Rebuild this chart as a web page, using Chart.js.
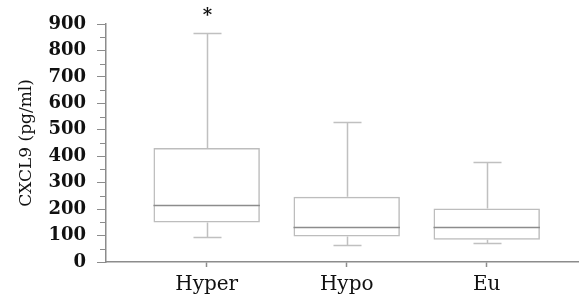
<!DOCTYPE html>
<html>
<head>
<meta charset="utf-8">
<script src="https://cdn.jsdelivr.net/npm/chart.js@4.4.1/dist/chart.umd.min.js"></script>
<style>
  html, body { margin: 0; padding: 0; background: #fff; }
  #wrap { width: 579px; height: 305px; }
</style>
</head>
<body>
<div id="wrap"><canvas id="boxChart"></canvas></div>
<script>
// data (pg/ml)
const categories = ['Hyper', 'Hypo', 'Eu'];
const positions = [1, 2, 3];
const whiskerLow = [96, 64, 71];
const q1 = [149, 96, 84];
const median = [217, 134, 134];
const q3 = [431, 247, 202];
const whiskerHigh = [867, 531, 379];
const marks = ['*', '', ''];
const markValue = 940;
const yTicks = [0, 100, 200, 300, 400, 500, 600, 700, 800, 900];

const boxData = positions.map((p, i) => ({ x: p, y: [q1[i], q3[i]] }));

// whiskers, caps, median and the asterisk
const boxExtras = {
  id: 'boxExtras',
  afterDatasetsDraw(chart) {
    const ctx = chart.ctx;
    const xs = chart.scales.x, ys = chart.scales.y;
    const meta = chart.getDatasetMeta(0);
    ctx.save();
    positions.forEach((p, i) => {
      const cx = Math.round(xs.getPixelForValue(p)) + 0.5;
      const bar = meta.data[i];
      const half = bar.width / 2;
      const capHalf = 14;
      const yHi = Math.round(ys.getPixelForValue(whiskerHigh[i])) + 0.5;
      const yQ3 = ys.getPixelForValue(q3[i]);
      const yQ1 = ys.getPixelForValue(q1[i]);
      const yLo = Math.round(ys.getPixelForValue(whiskerLow[i])) + 0.5;
      const yMed = Math.round(ys.getPixelForValue(median[i])) + 0.5;

      ctx.strokeStyle = '#c0c0c0';
      ctx.lineWidth = 1.5;
      ctx.beginPath();
      ctx.moveTo(cx, yHi); ctx.lineTo(cx, yQ3);
      ctx.moveTo(cx - capHalf, yHi); ctx.lineTo(cx + capHalf, yHi);
      ctx.moveTo(cx, yQ1); ctx.lineTo(cx, yLo);
      ctx.moveTo(cx - capHalf, yLo); ctx.lineTo(cx + capHalf, yLo);
      ctx.stroke();

      ctx.strokeStyle = '#8c8c8c';
      ctx.lineWidth = 1.5;
      ctx.beginPath();
      ctx.moveTo(bar.x - half, yMed); ctx.lineTo(bar.x + half, yMed);
      ctx.stroke();

      if (marks[i]) {
        ctx.fillStyle = '#111';
        ctx.font = 'bold 18px "DejaVu Serif"';
        ctx.textAlign = 'center';
        ctx.textBaseline = 'middle';
        ctx.fillText(marks[i], cx, ys.getPixelForValue(markValue) + 3);
      }
    });

    // minor ticks on the y axis
    ctx.strokeStyle = '#8c8c8c';
    ctx.lineWidth = 1;
    ctx.beginPath();
    for (let k = 0; k < yTicks.length - 1; k++) {
      const v = (yTicks[k] + yTicks[k + 1]) / 2;
      const y = Math.round(ys.getPixelForValue(v)) + 0.5;
      ctx.moveTo(ys.right - 6, y); ctx.lineTo(ys.right, y);
    }
    ctx.stroke();
    ctx.restore();
  }
};

new Chart(document.getElementById('boxChart'), {
  type: 'bar',
  data: {
    datasets: [{
      data: boxData,
      backgroundColor: 'rgba(0,0,0,0)',
      borderColor: '#bdbdbd',
      borderWidth: 1.5,
      borderSkipped: false,
      barPercentage: 0.76,
      categoryPercentage: 1.0
    }]
  },
  options: {
    responsive: true,
    maintainAspectRatio: false,
    animation: false,
    layout: { padding: { top: 24, right: 0, left: 0, bottom: 0 } },
    plugins: { legend: { display: false }, tooltip: { enabled: false } },
    scales: {
      x: {
        type: 'linear',
        offset: false,
        min: 0.281,
        max: 3.659,
        afterBuildTicks(scale) { scale.ticks = positions.map(v => ({ value: v })); },
        afterFit(scale) { scale.height = 43; },
        grid: { offset: false, drawOnChartArea: false, tickLength: 5, tickColor: '#8c8c8c', tickWidth: 1.5 },
        border: { color: '#8c8c8c', width: 1.5 },
        ticks: {
          autoSkip: false,
          maxRotation: 0,
          padding: 6,
          color: '#111',
          font: { family: '"DejaVu Serif"', size: 20 },
          callback: (v) => categories[positions.indexOf(v)] || ''
        }
      },
      y: {
        min: 0,
        max: 900,
        afterBuildTicks(scale) { scale.ticks = yTicks.map(v => ({ value: v })); },
        afterFit(scale) { scale.width = 106; },
        grid: { drawOnChartArea: false, tickLength: 9, tickColor: '#8c8c8c', tickWidth: 1 },
        border: { color: '#8c8c8c', width: 1.5 },
        ticks: {
          padding: 11,
          color: '#111',
          font: { family: '"DejaVu Serif"', size: 18, weight: 'bold' }
        },
        title: {
          display: true,
          text: 'CXCL9 (pg/ml)',
          color: '#111',
          font: { family: '"DejaVu Serif"', size: 17 },
          padding: { top: 16, bottom: 4 }
        }
      }
    }
  },
  plugins: [boxExtras]
});
</script>
</body>
</html>
